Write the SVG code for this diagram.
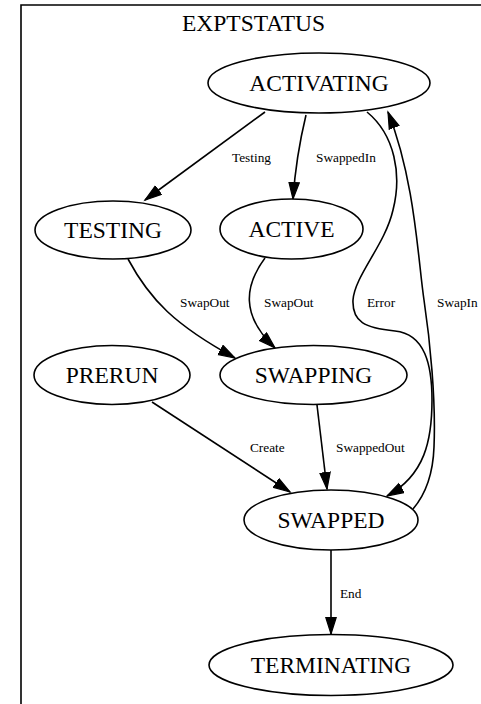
<svg xmlns="http://www.w3.org/2000/svg" width="481" height="704" viewBox="0 0 481 704">
<style>
.n{fill:#fff;stroke:#000;stroke-width:1.6}
.t{font-family:"Liberation Serif","Times New Roman",serif;font-size:23.5px;text-anchor:middle;fill:#000}
.e{fill:none;stroke:#000;stroke-width:1.6;marker-end:url(#a)}
.l{font-family:"Liberation Serif","Times New Roman",serif;font-size:13.3px;fill:#000}
</style>
<defs>
<marker id="a" markerUnits="userSpaceOnUse" markerWidth="20" markerHeight="14" refX="17" refY="6" orient="auto">
<path d="M0.5,0.8 L17,6 L0.5,11.2 Z" fill="#000" stroke="#000" stroke-width="1.2"/>
</marker>
</defs>
<rect x="0" y="0" width="481" height="704" fill="#fff"/>
<g id="cluster">
<path d="M21,704 L21,5 L482,5" fill="none" stroke="#000" stroke-width="1.6"/>
<text class="t" x="253.5" y="31">EXPTSTATUS</text>
</g>
<g id="edges">
<path class="e" d="M265,112 L145,200"/>
<text class="l" x="232" y="162">Testing</text>
<path class="e" d="M306,115 C300,140 295,170 293,199"/>
<text class="l" x="316" y="162">SwappedIn</text>
<path class="e" d="M367,112 C395,135 402,175 393,210 C385,245 355,275 353,300 C352,322 365,328 395,331 C425,334 432,365 432,400 C432,440 425,475 387,496"/>
<text class="l" x="367" y="307">Error</text>
<path class="e" d="M413,509 C425,495 433,475 434,447 C436,400 430,340 424,300 C418,260 415,180 388,112"/>
<text class="l" x="437" y="307">SwapIn</text>
<path class="e" d="M128,259 C150,300 175,325 235,358"/>
<text class="l" x="180" y="307">SwapOut</text>
<path class="e" d="M265,258 C245,285 240,315 275,348"/>
<text class="l" x="264" y="307">SwapOut</text>
<path class="e" d="M152,402 L290,492"/>
<text class="l" x="250" y="452">Create</text>
<path class="e" d="M317,405 L327,489"/>
<text class="l" x="336" y="452">SwappedOut</text>
<path class="e" d="M331,550 L331,634"/>
<text class="l" x="340" y="598">End</text>
</g>
<g id="ACTIVATING"><ellipse class="n" cx="319" cy="83" rx="111" ry="30"/><text class="t" x="319" y="91">ACTIVATING</text></g>
<g id="TESTING"><ellipse class="n" cx="113" cy="230" rx="78" ry="29"/><text class="t" x="113" y="238">TESTING</text></g>
<g id="ACTIVE"><ellipse class="n" cx="291.5" cy="229" rx="71.5" ry="30"/><text class="t" x="291.5" y="237">ACTIVE</text></g>
<g id="PRERUN"><ellipse class="n" cx="112" cy="375" rx="78" ry="29.5"/><text class="t" x="112" y="383">PRERUN</text></g>
<g id="SWAPPING"><ellipse class="n" cx="313.5" cy="375" rx="93.5" ry="29.5"/><text class="t" x="313.5" y="383">SWAPPING</text></g>
<g id="SWAPPED"><ellipse class="n" cx="331" cy="520" rx="87" ry="30"/><text class="t" x="331" y="528">SWAPPED</text></g>
<g id="TERMINATING"><ellipse class="n" cx="331" cy="665" rx="122" ry="30.5"/><text class="t" x="331" y="673">TERMINATING</text></g>
</svg>
